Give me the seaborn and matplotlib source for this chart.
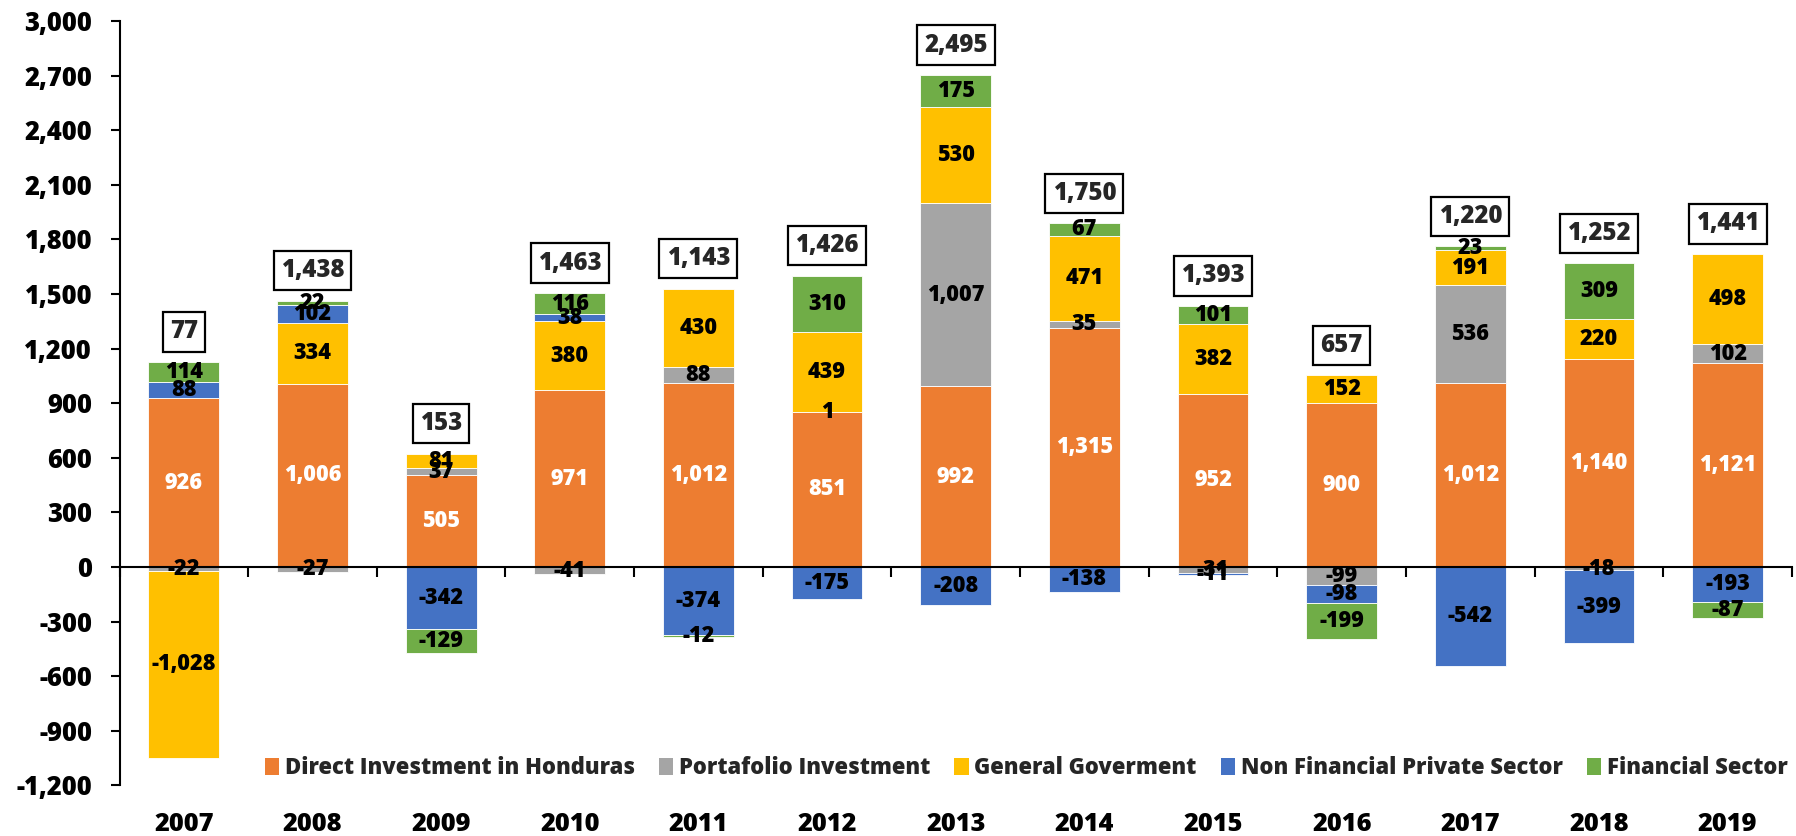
import numpy as np
import matplotlib
matplotlib.use("Agg")
import matplotlib.pyplot as plt
from matplotlib.patches import Patch
from matplotlib.ticker import FuncFormatter
import seaborn as sns

# ---------------- data ----------------
years = ["2007", "2008", "2009", "2010", "2011", "2012", "2013",
         "2014", "2015", "2016", "2017", "2018", "2019"]
direct = [926, 1006, 505, 971, 1012, 851, 992, 1315, 952, 900, 1012, 1140, 1121]
portfolio = [-22, -27, 37, -41, 88, 1, 1007, 35, -31, -99, 536, -18, 102]
general = [-1028, 334, 81, 380, 430, 439, 530, 471, 382, 152, 191, 220, 498]
nonfin = [88, 102, -342, 38, -374, -175, -208, -138, -11, -98, -542, -399, -193]
financial = [114, 22, -129, 116, -12, 310, 175, 67, 101, -199, 23, 309, -87]
totals = [77, 1438, 153, 1463, 1143, 1426, 2495, 1750, 1393, 657, 1220, 1252, 1441]

series_names = ["Direct Investment in Honduras", "Portafolio Investment",
                "General Goverment", "Non Financial Private Sector", "Financial Sector"]
series_values = [direct, portfolio, general, nonfin, financial]
colors = ["#ED7D31", "#A5A5A5", "#FFC000", "#4472C4", "#70AD47"]
label_colors = ["white", "black", "black", "black", "black"]

# ---------------- style ----------------
sns.set_style("white")
plt.rcParams["font.family"] = ["Open Sans", "DejaVu Sans"]
plt.rcParams["font.weight"] = "bold"
WEIGHT = 800

W, H = 1796, 836
fig = plt.figure(figsize=(W / 100, H / 100), dpi=100)
left, right, top, bottom = 119.5, 1792, 21, 785.3
ax = fig.add_axes([left / W, 1 - bottom / H, (right - left) / W, (bottom - top) / H])

pos_base = np.zeros(len(years))
neg_base = np.zeros(len(years))
for name, vals, col, lcol in zip(series_names, series_values, colors, label_colors):
    v = np.asarray(vals, dtype=float)
    bottoms = np.where(v >= 0, pos_base, neg_base)
    sns.barplot(x=years, y=v, bottom=bottoms, order=years, color=col, saturation=1,
                width=0.55, errorbar=None, ax=ax, edgecolor="white", linewidth=0.6)
    cont = ax.containers[-1]
    labels = [f"{x:,.0f}" if x != 0 else "" for x in v]
    ax.bar_label(cont, labels=labels, label_type="center", color=lcol,
                 fontsize=15.6, fontweight=WEIGHT)
    pos_base += np.where(v > 0, v, 0)
    neg_base += np.where(v < 0, v, 0)

# totals in boxes above the positive stack
for i, (t, ptop) in enumerate(zip(totals, pos_base)):
    ax.annotate(f"{t:,}", xy=(i, ptop), xytext=(0, 21.5), textcoords="offset points",
                ha="center", va="center", fontsize=17.3, fontweight=WEIGHT,
                bbox=dict(boxstyle="square,pad=0.3", fc="white", ec="black", lw=1.6))

# axes
ax.set_xlim(-0.5, len(years) - 0.5)
ax.set_ylim(-1200, 3000)
ax.set_yticks(np.arange(-1200, 3001, 300))
ax.yaxis.set_major_formatter(FuncFormatter(lambda val, p: f"{val:,.0f}"))
ax.tick_params(axis="y", left=True, direction="out", length=6.7, width=1.5,
               pad=13, labelsize=18.4, colors="black")
for lab in ax.get_yticklabels():
    lab.set_fontweight(WEIGHT)
ax.set_xticks(np.arange(-0.5, len(years), 1.0))
ax.set_xticklabels([])
ax.tick_params(axis="x", bottom=True, direction="out", length=7, width=1.5, colors="black")
ax.set_xlabel("")
ax.set_ylabel("")
for s in ["top", "right"]:
    ax.spines[s].set_visible(False)
ax.spines["bottom"].set_position(("data", 0))
for s in ["left", "bottom"]:
    ax.spines[s].set_linewidth(1.5)
    ax.spines[s].set_color("black")

for i, yr in enumerate(years):
    ax.text(i, -0.051, yr, transform=ax.get_xaxis_transform(), ha="center", va="center",
            fontsize=18.3, fontweight=WEIGHT, color="black")

handles = [Patch(facecolor=c, edgecolor="none") for c in colors]
leg = fig.legend(handles, series_names, loc="center left", bbox_to_anchor=(265 / W, 1 - 768 / H),
                 ncol=5, frameon=False, fontsize=15.8, handlelength=0.64, handleheight=0.85,
                 handletextpad=0.27, columnspacing=1.1, borderpad=0, borderaxespad=0)
for t in leg.get_texts():
    t.set_fontweight(WEIGHT)

fig.savefig("out.png", dpi=100)
